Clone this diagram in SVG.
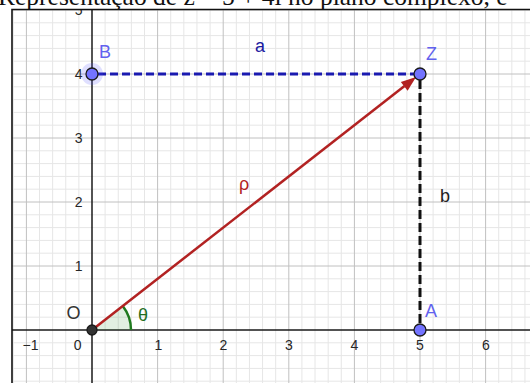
<svg xmlns="http://www.w3.org/2000/svg" width="530" height="383" viewBox="0 0 530 383">
  <style>
    .minor { stroke: #e6e6e6; stroke-width: 1; fill: none; }
    .major { stroke: #c0c0c0; stroke-width: 1; fill: none; }
    .axis { stroke: #1a1a1a; stroke-width: 1.5; fill: none; }
    .tick { font-family: "Liberation Sans", Arial, sans-serif; font-size: 14px; fill: #262626; }
    .lbl { font-family: "Liberation Sans", Arial, sans-serif; font-size: 18px; }
    .pt { fill: #7373ff; stroke: #1a1a1a; stroke-width: 1.3; }
    .ptlbl { fill: #6262ee; }
    .title { font-family: "Liberation Serif", "Times New Roman", serif; font-size: 25.5px; fill: #111; }
  </style>
  <defs>
    <clipPath id="plot">
      <rect x="12" y="9.5" width="518" height="374"/>
    </clipPath>
  </defs>
  <rect x="0" y="0" width="530" height="383" fill="#ffffff"/>

  <g id="grid" clip-path="url(#plot)">
    <path class="minor" d="M13.28,0V383 M39.52,0V383 M52.64,0V383 M65.76,0V383 M78.88,0V383 M105.12,0V383 M118.24,0V383 M131.36,0V383 M144.48,0V383 M170.72,0V383 M183.84,0V383 M196.96,0V383 M210.08,0V383 M236.32,0V383 M249.44,0V383 M262.56,0V383 M275.68,0V383 M301.92,0V383 M315.04,0V383 M328.16,0V383 M341.28,0V383 M367.52,0V383 M380.64,0V383 M393.76,0V383 M406.88,0V383 M433.12,0V383 M446.24,0V383 M459.36,0V383 M472.48,0V383 M498.72,0V383 M511.84,0V383 M524.96,0V383
      M0,22.8H530 M0,35.6H530 M0,48.4H530 M0,61.2H530 M0,86.8H530 M0,99.6H530 M0,112.4H530 M0,125.2H530 M0,150.8H530 M0,163.6H530 M0,176.4H530 M0,189.2H530 M0,214.8H530 M0,227.6H530 M0,240.4H530 M0,253.2H530 M0,278.8H530 M0,291.6H530 M0,304.4H530 M0,317.2H530 M0,342.8H530 M0,355.6H530 M0,368.4H530 M0,381.2H530"/>
    <path class="major" d="M26.4,0V383 M157.6,0V383 M223.2,0V383 M288.8,0V383 M354.4,0V383 M420,0V383 M485.6,0V383
      M0,10H530 M0,74H530 M0,138H530 M0,202H530 M0,266H530"/>
    <path class="axis" d="M92,0V383 M0,330H530"/>
    <g id="tick-labels" class="tick">
      <text x="30.5" y="350" text-anchor="middle">−1</text>
      <text x="77.7" y="350" text-anchor="middle">0</text>
      <text x="158.5" y="350" text-anchor="middle">1</text>
      <text x="223.5" y="350" text-anchor="middle">2</text>
      <text x="289" y="350" text-anchor="middle">3</text>
      <text x="354.5" y="350" text-anchor="middle">4</text>
      <text x="420" y="350" text-anchor="middle">5</text>
      <text x="486" y="350" text-anchor="middle">6</text>
      <text x="82.5" y="271" text-anchor="end">1</text>
      <text x="82.5" y="207" text-anchor="end">2</text>
      <text x="82.5" y="143" text-anchor="end">3</text>
      <text x="82.5" y="79" text-anchor="end">4</text>
      <text x="82.5" y="15" text-anchor="end">5</text>
    </g>
  </g>

  <g id="connectors" clip-path="url(#plot)">
    <g id="angle-theta">
      <path d="M92,330 L131,330 A39,39 0 0 0 122.74,306 Z" fill="#2e8b2e" fill-opacity="0.14"/>
      <path d="M131,330 A39,39 0 0 0 122.74,306" fill="none" stroke="#1f7a1f" stroke-width="2.5"/>
    </g>
    <line id="seg-a" x1="98" y1="74" x2="414" y2="74" stroke="#1a1ab0" stroke-width="3" stroke-dasharray="8 4"/>
    <line id="seg-b" x1="420" y1="80" x2="420" y2="324" stroke="#111" stroke-width="3" stroke-dasharray="9 4"/>
    <g id="vector-rho">
      <line x1="92" y1="330" x2="404.5" y2="86.1" stroke="#b22222" stroke-width="2.5"/>
      <polygon points="416.06,77.08 407.62,90.65 400.86,81.97" fill="#b22222"/>
    </g>
  </g>

  <g id="labels" class="lbl">
    <text id="label-a" x="255" y="52" fill="#1a1aa0">a</text>
    <text id="label-b" x="440" y="202" fill="#222">b</text>
    <text id="label-rho" x="239" y="189.5" fill="#b22222">ρ</text>
    <text id="label-theta" x="138" y="321" fill="#1f6e1f">θ</text>
  </g>

  <g id="node-O">
    <circle class="pt" cx="92" cy="330" r="5" style="fill:#333"/>
    <text class="lbl" x="66.5" y="319" fill="#333">O</text>
  </g>
  <g id="node-B">
    <circle cx="92" cy="74" r="11" fill="#4d4dff" fill-opacity="0.18"/>
    <circle class="pt" cx="92" cy="74" r="6"/>
    <text class="lbl ptlbl" x="99" y="58">B</text>
  </g>
  <g id="node-Z">
    <circle class="pt" cx="420" cy="74" r="6"/>
    <text class="lbl ptlbl" x="426" y="60">Z</text>
  </g>
  <g id="node-A">
    <circle class="pt" cx="420" cy="330" r="6"/>
    <text class="lbl ptlbl" x="425" y="317">A</text>
  </g>

  <g id="frame">
    <path d="M12,383V9.5H530" fill="none" stroke="#111" stroke-width="1.6"/>
  </g>
  <text id="title" class="title" x="-2" y="5">Representação de z = 5 + 4i no plano complexo, e</text>
</svg>
